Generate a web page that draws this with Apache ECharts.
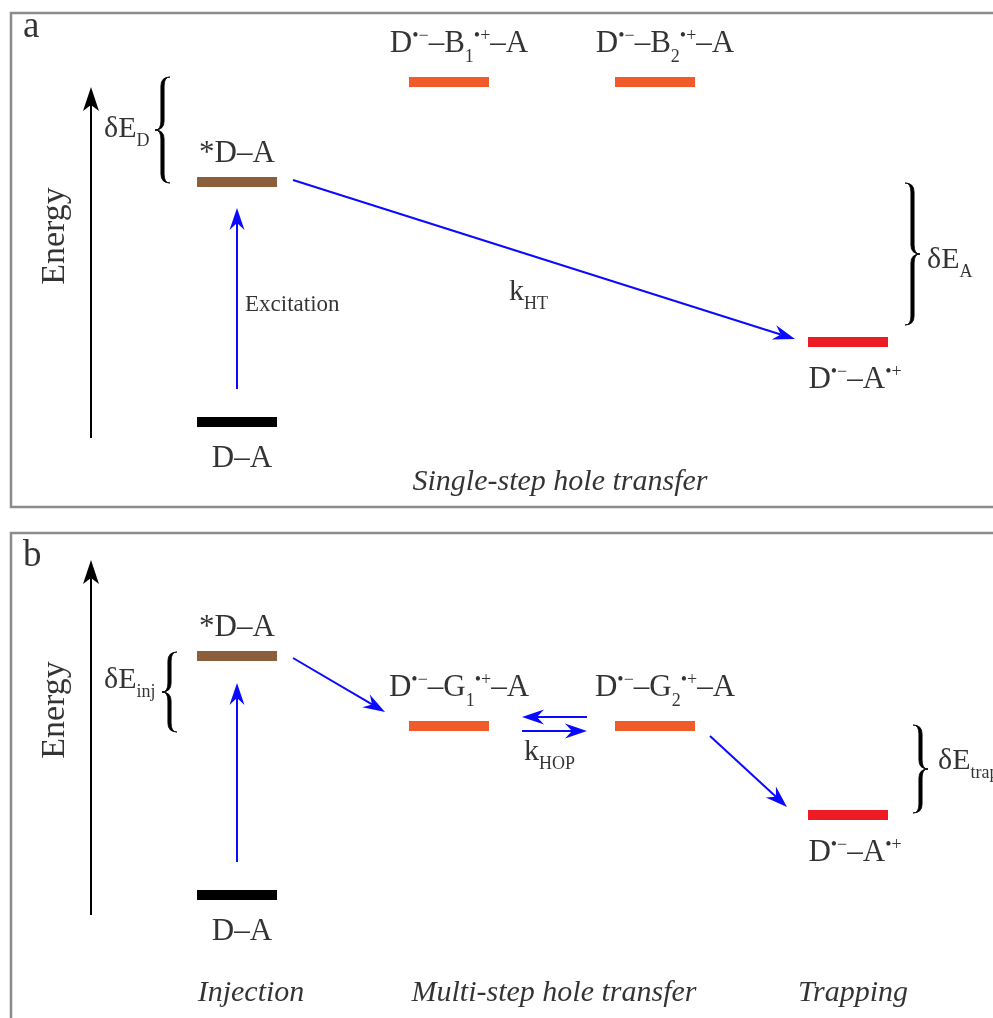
<!DOCTYPE html>
<html>
<head>
<meta charset="utf-8">
<script src="https://cdn.jsdelivr.net/npm/echarts@6/dist/echarts.min.js"></script>
<style>
  html, body { margin: 0; padding: 0; background: #fff; }
  #chart { width: 993px; height: 1018px; }
</style>
</head>
<body>
<div id="chart"></div>
<script>
// ---- panel a : single-step hole transfer ----
const levelNamesA = ['D–A', '*D–A', 'D{sup|•−}–B{sub|1}{sup|•+}–A', 'D{sup|•−}–B{sub|2}{sup|•+}–A', 'D{sup|•−}–A{sup|•+}'];
const levelKindsA = ['ground', 'excited', 'bridge', 'bridge', 'trap'];
const levelColsA = [237, 237, 449, 655, 848];
const levelEnergyA = [85, 325, 425, 425, 165];
const energyAxisA = [[91, 69, 91, 420]];
const transfersA = [[237, 118, 237, 299], [293, 327, 795, 168]];
const bracesA = [[155, 430, 324, -1], [920, 324, 182, 1]];
const notesA = ['a', 'Energy', 'δE{s|D}', 'Excitation', 'k{s|HT}', 'δE{s|A}', 'Single-step hole transfer'];
const notesKindA = ['panel', 'axis', 'delta', 'small', 'rate', 'delta', 'caption'];
const notesXA = [23, 55, 104, 245, 509, 927, 560];
const notesEA = [480, 271, 378, 202, 215, 247, 25];

// ---- panel b : multi-step hole transfer ----
const levelNamesB = ['D–A', '*D–A', 'D{sup|•−}–G{sub|1}{sup|•+}–A', 'D{sup|•−}–G{sub|2}{sup|•+}–A', 'D{sup|•−}–A{sup|•+}'];
const levelKindsB = ['ground', 'excited', 'bridge', 'bridge', 'trap'];
const levelColsB = [237, 237, 449, 655, 848];
const levelEnergyB = [138, 377, 307, 307, 218];
const energyAxisB = [[91, 118, 91, 473]];
const transfersB = [[237, 171, 237, 350], [293, 375, 385, 321], [587, 316, 522, 316], [522, 302, 587, 302], [710, 297, 787, 226]];
const bracesB = [[162, 381, 301, -1], [928, 308, 220, 1]];
const notesB = ['b', 'Energy', 'δE{s|inj}', 'k{s|HOP}', 'δE{s|trap}', 'Injection', 'Multi-step hole transfer', 'Trapping'];
const notesKindB = ['panel', 'axis', 'delta', 'rate', 'delta', 'caption', 'caption', 'caption'];
const notesXB = [23, 55, 104, 524, 938, 251, 554, 853];
const notesEB = [477, 323, 353, 281, 272, 40, 40, 40];

const FONT = '"Liberation Serif", "Times New Roman", serif';
const LEVEL_W = 80, LEVEL_H = 10;

const levelStyle = {
  ground: { color: '#000000', dx: 5, dy: 37 },
  excited: { color: '#8b5e3c', dx: 0, dy: -28 },
  bridge: { color: '#f15a29', dx: 10, dy: -38 },
  trap: { color: '#ed1c24', dx: 7, dy: 38 }
};
const noteStyle = {
  panel: { fontSize: 37, align: 'left' },
  axis: { fontSize: 34, align: 'center', rotate: 90 },
  delta: { fontSize: 30, align: 'left' },
  small: { fontSize: 23, align: 'left' },
  rate: { fontSize: 30, align: 'left' },
  caption: { fontSize: 30, align: 'center', fontStyle: 'italic' }
};
const rich = {
  sup: { fontFamily: FONT, fontSize: 18, lineHeight: 18, padding: [0, 0, 16, 0], color: '#000' },
  sub: { fontFamily: FONT, fontSize: 18, lineHeight: 18, padding: [26, 0, 0, 0], color: '#000' },
  s: { fontFamily: FONT, fontSize: 18, lineHeight: 18, padding: [24, 0, 0, 0], color: '#000' }
};

function arrowRenderer(color, width, len, half, notch) {
  return function (params, api) {
    const p1 = api.coord([api.value(0), api.value(1)]);
    const p2 = api.coord([api.value(2), api.value(3)]);
    const dx = p2[0] - p1[0], dy = p2[1] - p1[1];
    const d = Math.sqrt(dx * dx + dy * dy);
    const ux = dx / d, uy = dy / d;
    const bx = p2[0] - ux * len, by = p2[1] - uy * len;
    const nx = p2[0] - ux * notch, ny = p2[1] - uy * notch;
    const px = -uy * half, py = ux * half;
    return {
      type: 'group',
      children: [
        { type: 'line', shape: { x1: p1[0], y1: p1[1], x2: nx, y2: ny }, style: { stroke: color, lineWidth: width } },
        { type: 'polygon', shape: { points: [[p2[0], p2[1]], [bx + px, by + py], [nx, ny], [bx - px, by - py]] }, style: { fill: color } }
      ]
    };
  };
}

function renderBrace(params, api) {
  const d = api.value(3);
  const a = api.coord([api.value(0), api.value(1)]);
  const b = api.coord([api.value(0), api.value(2)]);
  const xt = a[0];
  const y1 = Math.min(a[1], b[1]), y2 = Math.max(a[1], b[1]), ym = (y1 + y2) / 2;
  const w = 15, r = 9, t = 1.6;
  const xs = xt - d * w / 2, xe = xt - d * w;
  const o = xs + d * t, i = xs - d * t;
  const path =
    'M' + xe + ',' + y1 + ' Q' + o + ',' + y1 + ' ' + o + ',' + (y1 + r) +
    ' L' + o + ',' + (ym - r) + ' Q' + o + ',' + ym + ' ' + xt + ',' + ym +
    ' Q' + o + ',' + ym + ' ' + o + ',' + (ym + r) + ' L' + o + ',' + (y2 - r) +
    ' Q' + o + ',' + y2 + ' ' + xe + ',' + y2 +
    ' Q' + i + ',' + y2 + ' ' + i + ',' + (y2 - r) + ' L' + i + ',' + (ym + r) +
    ' Q' + i + ',' + ym + ' ' + xt + ',' + ym + ' Q' + i + ',' + ym + ' ' + i + ',' + (ym - r) +
    ' L' + i + ',' + (y1 + r) + ' Q' + i + ',' + y1 + ' ' + xe + ',' + y1 + ' Z';
  return { type: 'path', shape: { pathData: path }, style: { fill: '#000', stroke: '#000', lineWidth: 0.8 } };
}

function renderLevel(params, api) {
  const c = api.coord([api.value(0), api.value(1)]);
  const w = api.size([LEVEL_W, 0])[0];
  const kind = params.context.kinds[params.dataIndex];
  return {
    type: 'rect',
    shape: { x: c[0] - w / 2, y: c[1] - LEVEL_H / 2, width: w, height: LEVEL_H },
    style: { fill: levelStyle[kind].color }
  };
}

function panelSeries(idx, names, kinds, cols, energy, axisArrow, transfers, braces, notes, noteKinds, noteX, noteE) {
  const base = { xAxisIndex: idx, yAxisIndex: idx, silent: true };
  const labelBase = {
    show: true, position: 'inside', color: '#000', fontFamily: FONT,
    fontSize: 31, lineHeight: 34, formatter: function (p) { return p.name; }, rich: rich
  };
  return [
    Object.assign({}, base, {
      type: 'custom', coordinateSystem: 'cartesian2d',
      data: cols.map(function (x, i) { return [x, energy[i]]; }),
      renderItem: function (params, api) { params.context.kinds = kinds; return renderLevel(params, api); }
    }),
    Object.assign({}, base, {
      type: 'custom', coordinateSystem: 'cartesian2d', data: axisArrow,
      encode: { x: [0, 2], y: [1, 3] },
      renderItem: arrowRenderer('#000', 2, 24, 8, 18)
    }),
    Object.assign({}, base, {
      type: 'custom', coordinateSystem: 'cartesian2d', data: transfers,
      encode: { x: [0, 2], y: [1, 3] },
      renderItem: arrowRenderer('#0a0aff', 2, 22, 7.5, 15)
    }),
    Object.assign({}, base, {
      type: 'custom', coordinateSystem: 'cartesian2d', data: braces,
      encode: { x: 0, y: [1, 2] },
      renderItem: renderBrace
    }),
    Object.assign({}, base, {
      type: 'scatter', symbolSize: 0.1, itemStyle: { color: 'transparent' },
      label: labelBase,
      data: cols.map(function (x, i) {
        const s = levelStyle[kinds[i]];
        return { name: names[i], value: [x, energy[i]], label: { offset: [s.dx, s.dy] } };
      })
    }),
    Object.assign({}, base, {
      type: 'scatter', symbolSize: 0.1, itemStyle: { color: 'transparent' },
      label: labelBase,
      data: notes.map(function (t, i) {
        return { name: t, value: [noteX[i], noteE[i]], label: Object.assign({}, noteStyle[noteKinds[i]]) };
      })
    })
  ];
}

const chart = echarts.init(document.getElementById('chart'));
const gridStyle = { show: true, borderColor: '#8c8c8c', borderWidth: 2.5, backgroundColor: '#fff', outerBoundsMode: 'none', containLabel: false };
chart.setOption({
  animation: false,
  grid: [
    Object.assign({ left: 11, top: 13, width: 1100, height: 494 }, gridStyle),
    Object.assign({ left: 11, top: 533, width: 1100, height: 500 }, gridStyle)
  ],
  xAxis: [
    { gridIndex: 0, type: 'value', min: 11, max: 1111, show: false },
    { gridIndex: 1, type: 'value', min: 11, max: 1111, show: false }
  ],
  yAxis: [
    { gridIndex: 0, type: 'value', min: 0, max: 494, show: false },
    { gridIndex: 1, type: 'value', min: 0, max: 500, show: false }
  ],
  series: [].concat(
    panelSeries(0, levelNamesA, levelKindsA, levelColsA, levelEnergyA, energyAxisA, transfersA, bracesA, notesA, notesKindA, notesXA, notesEA),
    panelSeries(1, levelNamesB, levelKindsB, levelColsB, levelEnergyB, energyAxisB, transfersB, bracesB, notesB, notesKindB, notesXB, notesEB)
  )
});
</script>
</body>
</html>
